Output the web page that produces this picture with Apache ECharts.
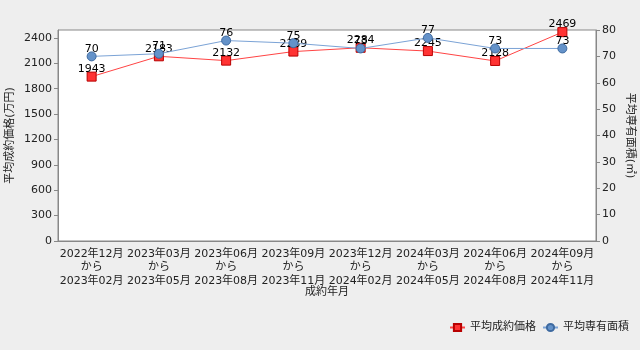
<!DOCTYPE html>
<html>
<head>
<meta charset="utf-8">
<script src="https://cdn.jsdelivr.net/npm/echarts@6/dist/echarts.min.js"></script>
<style>
  html, body { margin: 0; padding: 0; background: #eeeeee; }
  #chart { width: 640px; height: 350px; }
</style>
</head>
<body>
<div id="chart"></div>
<script>
// Contract periods (quarters), shown on three lines each
const periods = [
  '2022年12月\nから\n2023年02月',
  '2023年03月\nから\n2023年05月',
  '2023年06月\nから\n2023年08月',
  '2023年09月\nから\n2023年11月',
  '2023年12月\nから\n2024年02月',
  '2024年03月\nから\n2024年05月',
  '2024年06月\nから\n2024年08月',
  '2024年09月\nから\n2024年11月'
];
// Average contract price (万円)
const avgPrice = [1943, 2183, 2132, 2239, 2284, 2245, 2128, 2469];
// Average floor area (㎡)
const avgArea = [70, 71, 76, 75, 73, 77, 73, 73];

const FONT = '"DejaVu Sans", "Noto Sans CJK JP", sans-serif';
const axisGray = '#888888';
const textColor = '#222222';

const chart = echarts.init(document.getElementById('chart'), null, { renderer: 'canvas' });

chart.setOption({
  backgroundColor: '#eeeeee',
  animation: false,
  textStyle: { fontFamily: FONT },
  grid: {
    left: 58, right: 44, top: 30, bottom: 109,
    containLabel: false,
    outerBoundsMode: 'none',
    show: true, backgroundColor: '#ffffff', borderColor: axisGray, borderWidth: 1
  },
  legend: {
    right: 6, bottom: 12,
    itemWidth: 15, itemHeight: 9, itemGap: 6,
    textStyle: { fontFamily: FONT, fontSize: 11, color: textColor },
    data: ['平均成約価格', '平均専有面積']
  },
  xAxis: {
    type: 'category',
    data: periods,
    boundaryGap: true,
    name: '成約年月',
    nameLocation: 'middle',
    nameGap: 46,
    nameMoveOverlap: false,
    nameTextStyle: { fontFamily: FONT, fontSize: 11, color: textColor },
    axisLine: { lineStyle: { color: axisGray } },
    axisTick: { alignWithLabel: true, length: 4, lineStyle: { color: axisGray } },
    axisLabel: { fontFamily: FONT, fontSize: 11, color: textColor, lineHeight: 13.5, margin: 6, interval: 0 },
    splitLine: { show: false }
  },
  yAxis: [
    {
      type: 'value',
      min: 0, max: 2494, interval: 300,
      name: '平均成約価格(万円)',
      nameLocation: 'middle',
      nameRotate: 90,
      nameGap: 42,
      nameMoveOverlap: false,
      nameTextStyle: { fontFamily: FONT, fontSize: 11, color: textColor },
      axisLine: { show: true, lineStyle: { color: axisGray } },
      axisTick: { show: true, length: 4, lineStyle: { color: axisGray } },
      axisLabel: {
        fontFamily: FONT, fontSize: 11, color: textColor, margin: 6,
        showMaxLabel: false,
        formatter: v => String(v)
      },
      splitLine: { show: false }
    },
    {
      type: 'value',
      min: 0, max: 80, interval: 10,
      name: '平均専有面積(㎡)',
      nameLocation: 'middle',
      nameRotate: -90,
      nameGap: 28,
      nameMoveOverlap: false,
      nameTextStyle: { fontFamily: FONT, fontSize: 11, color: textColor },
      axisLine: { show: true, lineStyle: { color: axisGray } },
      axisTick: { show: true, length: 4, lineStyle: { color: axisGray } },
      axisLabel: { fontFamily: FONT, fontSize: 11, color: textColor, margin: 6 },
      splitLine: { show: false }
    }
  ],
  series: [
    {
      name: '平均成約価格',
      type: 'line',
      yAxisIndex: 0,
      data: avgPrice,
      symbol: 'rect',
      symbolSize: 9,
      lineStyle: { color: '#ff4444', width: 1 },
      itemStyle: { color: '#ff3333', borderColor: '#b80000', borderWidth: 1 },
      label: { show: true, position: 'top', distance: -3, fontFamily: FONT, fontSize: 11, color: '#000000' },
      z: 2
    },
    {
      name: '平均専有面積',
      type: 'line',
      yAxisIndex: 1,
      data: avgArea,
      symbol: 'circle',
      symbolSize: 9,
      lineStyle: { color: '#7ba3d6', width: 1 },
      itemStyle: { color: '#6492c9', borderColor: '#3e6aa0', borderWidth: 1 },
      label: { show: true, position: 'top', distance: -3, fontFamily: FONT, fontSize: 11, color: '#000000' },
      z: 3
    }
  ]
});
</script>
</body>
</html>
